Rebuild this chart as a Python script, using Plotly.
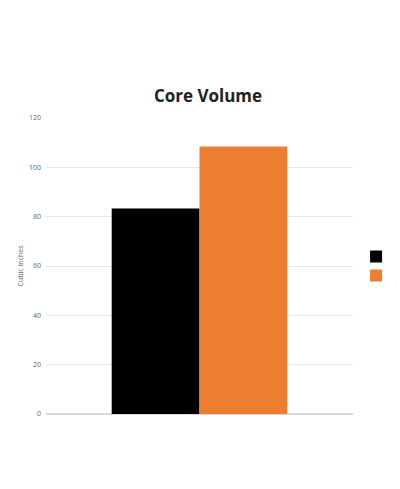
import plotly.graph_objects as go

categories = [""]
series_names = ["Stock", "Mishimoto"]
stock = [83.3]
mishimoto = [108.4]
colors = ["#000000", "#ED7D31"]

fig = go.Figure()
for name, vals, c in zip(series_names, [stock, mishimoto], colors):
    fig.add_bar(x=categories, y=vals, name=name, marker_color=c, marker_line_width=0)

fig.update_layout(
    width=400, height=489,
    paper_bgcolor="white", plot_bgcolor="white",
    margin=dict(l=38, r=55, t=110, b=83, autoexpand=False),
    barmode="group", bargap=0.428, bargroupgap=0,
    title=dict(text="<b>Core Volume</b>", x=0.5, xanchor="center", y=1-88/489, yanchor="middle",
               font=dict(family="Open Sans", size=17, color="#222")),
    font=dict(family="Open Sans", size=7, color="#666"),
    legend=dict(x=1.01, y=0.5, xanchor="left", yanchor="middle", font=dict(size=7, color="#555"),
                itemwidth=30, tracegroupgap=0),
    showlegend=True,
)
fig.update_yaxes(range=[0, 120], dtick=20, showgrid=True, gridcolor="#e6e6e6", zeroline=True,
                 zerolinecolor="#d9d9d9", title=dict(text="Cubic Inches", font=dict(size=7, color="#666"), standoff=4),
                 tickfont=dict(size=7, color="#666"), ticklabelstandoff=4)
fig.update_xaxes(showticklabels=False, showline=False)
fig.write_html("out.html")
